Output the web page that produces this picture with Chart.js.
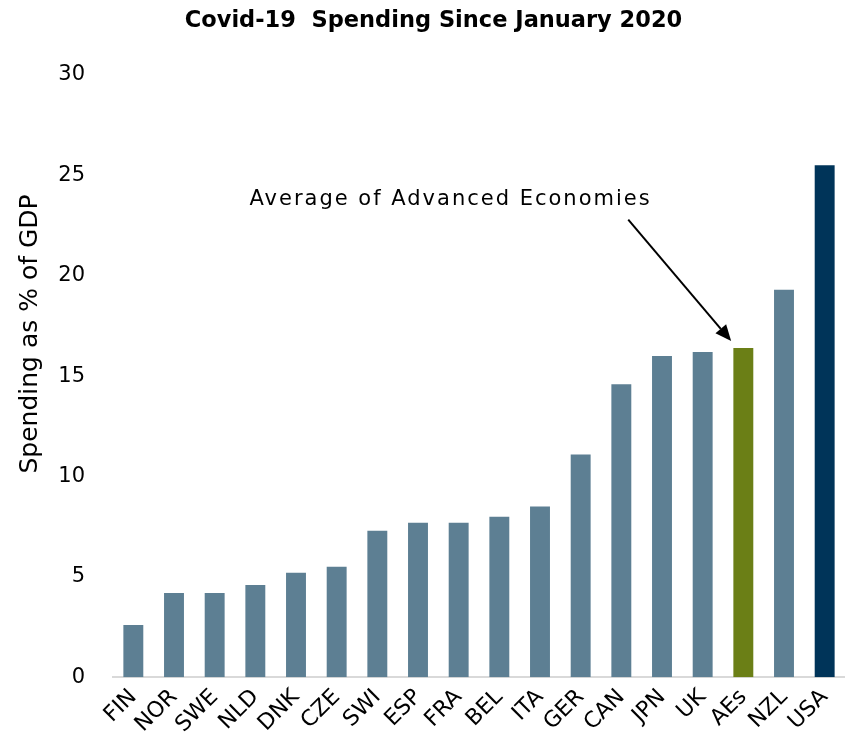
<!DOCTYPE html>
<html>
<head>
<meta charset="utf-8">
<script src="https://cdn.jsdelivr.net/npm/chart.js@4/dist/chart.umd.min.js"></script>
<style>
    body { margin: 0; background: #fff; }
    #wrap { width: 845px; height: 745px; }
</style>
</head>
<body>
<div id="wrap"><canvas id="chartGasto"></canvas></div>
<script>
const paises = ['FIN', 'NOR', 'SWE', 'NLD', 'DNK', 'CZE', 'SWI', 'ESP', 'FRA', 'BEL', 'ITA', 'GER', 'CAN', 'JPN', 'UK', 'AEs', 'NZL', 'USA'];
const gasto = [2.6, 4.2, 4.2, 4.6, 5.2, 5.5, 7.3, 7.7, 7.7, 8.0, 8.5, 11.1, 14.6, 16.0, 16.2, 16.4, 19.3, 25.5];
const ticksY = [0, 5, 10, 15, 20, 25, 30];

const colorBase = '#5d7f93';
const colorPromedio = '#6b7f16';
const colorUSA = '#003459';

const colores = paises.map((p) => p === 'AEs' ? colorPromedio : (p === 'USA' ? colorUSA : colorBase));

const fuente = "'DejaVu Sans', sans-serif";

// título del eje Y, algo por encima del centro del eje
const tituloEjeY = {
    id: 'tituloEjeY',
    afterDraw(chart) {
        const ctx = chart.ctx;
        const y = chart.scales.y;
        ctx.save();
        ctx.translate(y.left + 8, y.getPixelForValue(17.1));
        ctx.rotate(-Math.PI / 2);
        ctx.font = '25px ' + fuente;
        ctx.fillStyle = '#000';
        ctx.textAlign = 'center';
        ctx.textBaseline = 'middle';
        ctx.fillText('Spending as % of GDP', 0, 0);
        ctx.restore();
    }
};

// texto y flecha que señalan la barra del promedio
const notaPromedio = {
    id: 'notaPromedio',
    afterDraw(chart) {
        const ctx = chart.ctx;
        const x = chart.scales.x;
        const y = chart.scales.y;
        const idx = paises.indexOf('AEs');

        ctx.save();
        ctx.font = '21px ' + fuente;
        ctx.letterSpacing = '2px';
        ctx.fillStyle = '#000';
        ctx.textAlign = 'center';
        ctx.textBaseline = 'middle';
        ctx.fillText('Average of Advanced Economies', x.getPixelForValue(7.8), y.getPixelForValue(23.8));

        const x0 = x.getPixelForValue(12.17), y0 = y.getPixelForValue(22.8);
        const x1 = x.getPixelForValue(idx - 0.3), y1 = y.getPixelForValue(gasto[idx] + 0.35);
        const ang = Math.atan2(y1 - y0, x1 - x0);
        const largo = 16, ancho = 7;
        const bx = x1 - largo * Math.cos(ang), by = y1 - largo * Math.sin(ang);

        ctx.strokeStyle = '#000';
        ctx.lineWidth = 2;
        ctx.beginPath();
        ctx.moveTo(x0, y0);
        ctx.lineTo(bx, by);
        ctx.stroke();

        ctx.beginPath();
        ctx.moveTo(x1, y1);
        ctx.lineTo(bx + ancho * Math.sin(ang), by - ancho * Math.cos(ang));
        ctx.lineTo(bx - ancho * Math.sin(ang), by + ancho * Math.cos(ang));
        ctx.closePath();
        ctx.fill();
        ctx.letterSpacing = '0px';
        ctx.restore();
    }
};

const data = {
    labels: paises,
    datasets: [{
        label: 'Spending as % of GDP',
        data: gasto,
        backgroundColor: colores,
        barPercentage: 0.49,
        categoryPercentage: 1.0
    }]
};

const config = {
    type: 'bar',
    data: data,
    options: {
        responsive: true,
        maintainAspectRatio: false,
        animation: false,
        layout: { padding: { left: 22, right: 0, top: 4, bottom: 0 } },
        plugins: {
            legend: { display: false },
            tooltip: { enabled: false },
            title: {
                display: true,
                text: 'Covid-19  Spending Since January 2020',
                color: '#000',
                font: { family: fuente, size: 22.5, weight: 'bold' },
                padding: { top: 4, bottom: 40 }
            }
        },
        scales: {
            x: {
                // las etiquetas giradas no necesitan margen a los lados
                afterFit: (scale) => { scale.paddingRight = 0; scale.paddingLeft = 0; },
                grid: { display: false, drawTicks: false },
                border: { display: true, color: '#d9d9d9', width: 2 },
                ticks: {
                    color: '#000',
                    font: { family: fuente, size: 22 },
                    minRotation: 45,
                    maxRotation: 45,
                    autoSkip: false,
                    padding: 7
                }
            },
            y: {
                min: 0,
                max: 30,
                afterBuildTicks: (scale) => {
                    scale.ticks = ticksY.map((v) => ({ value: v }));
                },
                afterFit: (scale) => { scale.width = 91; },
                grid: { display: false, drawTicks: false },
                border: { display: false },
                ticks: {
                    color: '#000',
                    font: { family: fuente, size: 21 },
                    padding: 28
                }
            }
        }
    },
    plugins: [notaPromedio, tituloEjeY]
};

const canvasGasto = document.getElementById('chartGasto');
const graficoGasto = new Chart(canvasGasto, config);
</script>
</body>
</html>
